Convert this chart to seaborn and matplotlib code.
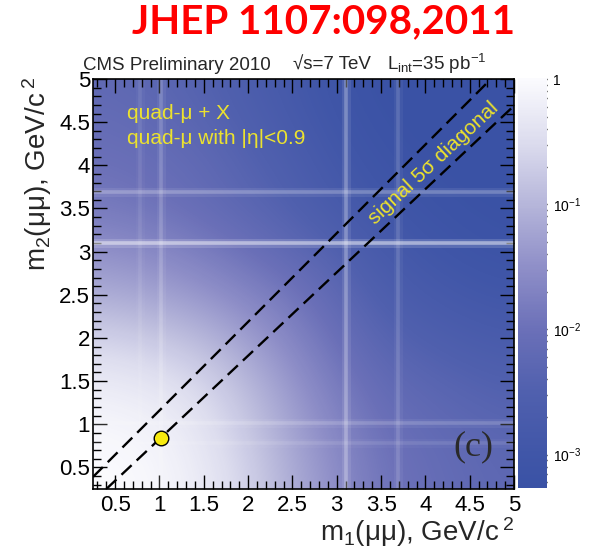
import numpy as np
import matplotlib
matplotlib.use("Agg")
import matplotlib.pyplot as plt
import seaborn as sns
from matplotlib.colors import LinearSegmentedColormap, Normalize, LogNorm
from matplotlib.ticker import FixedLocator, FixedFormatter, MultipleLocator, NullFormatter
import matplotlib.cm as cm

# ---------------- data ----------------
# grid nodes of the background map (GeV/c^2), same for m1 (columns) and m2 (rows)
mass_nodes = [0.0, 0.5, 1.0, 1.5, 2.0, 2.5, 3.0, 3.5, 4.0, 4.5, 5.0]
# log10 of the relative background density, one row per m2 node
log_density_m2_0p0 = [0.00, 0.00, -0.06, -0.25, -0.60, -1.10, -1.50, -1.90, -2.05, -2.18, -2.25]
log_density_m2_0p5 = [0.00, 0.00, -0.08, -0.28, -0.65, -1.15, -1.55, -1.92, -2.08, -2.20, -2.27]
log_density_m2_1p0 = [-0.06, -0.08, -0.15, -0.38, -0.78, -1.25, -1.65, -2.00, -2.15, -2.26, -2.33]
log_density_m2_1p5 = [-0.25, -0.28, -0.38, -0.60, -0.98, -1.42, -1.82, -2.15, -2.30, -2.42, -2.50]
log_density_m2_2p0 = [-0.60, -0.65, -0.78, -0.98, -1.30, -1.65, -2.02, -2.35, -2.52, -2.65, -2.72]
log_density_m2_2p5 = [-1.10, -1.15, -1.25, -1.42, -1.65, -1.90, -2.22, -2.55, -2.75, -2.88, -2.95]
log_density_m2_3p0 = [-1.45, -1.50, -1.60, -1.78, -2.00, -2.22, -2.45, -2.75, -2.95, -3.08, -3.15]
log_density_m2_3p5 = [-1.80, -1.85, -1.95, -2.10, -2.28, -2.48, -2.72, -2.95, -3.10, -3.20, -3.25]
log_density_m2_4p0 = [-1.98, -2.00, -2.08, -2.20, -2.40, -2.60, -2.88, -3.08, -3.20, -3.27, -3.30]
log_density_m2_4p5 = [-2.10, -2.12, -2.20, -2.33, -2.52, -2.75, -3.00, -3.18, -3.27, -3.30, -3.30]
log_density_m2_5p0 = [-2.20, -2.22, -2.30, -2.43, -2.62, -2.85, -3.08, -3.25, -3.30, -3.30, -3.30]

# resonances (omega, phi, J/psi, psi') seen as light bands
resonance_mass = [0.78, 1.02, 3.10, 3.69]
resonance_strength_m1 = [0.12, 0.25, 0.40, 0.20]   # vertical bands
resonance_strength_m2 = [0.15, 0.25, 0.70, 0.35]   # horizontal bands
# signal 5 sigma diagonal corridor (end points)
diag_upper_m1 = [0.25, 4.74]
diag_upper_m2 = [0.39, 5.00]
diag_lower_m1 = [0.40, 5.00]
diag_lower_m2 = [0.25, 4.69]
# observed candidate
candidate_m1 = [1.02]
candidate_m2 = [0.84]

tick_values = [0.5, 1.0, 1.5, 2.0, 2.5, 3.0, 3.5, 4.0, 4.5, 5.0]
tick_labels = ["0.5", "1", "1.5", "2", "2.5", "3", "3.5", "4", "4.5", "5"]
cbar_ticks = [1e-3, 1e-2, 1e-1, 1.0]
cbar_labels = [r"$10^{-3}$", r"$10^{-2}$", r"$10^{-1}$", "1"]
cbar_min, cbar_max = 5.4e-4, 1.02

# colour palette (log10 value -> colour)
cmap_levels = [np.log10(cbar_min), -3.0, -2.5, -2.0, -1.5, -1.0, -0.5, np.log10(cbar_max)]
cmap_colors = ["#3a52a5", "#4056a8", "#5060ae", "#6b70b8", "#8f8fc8", "#b6b6da", "#dcdcee", "#fbfbfe"]

# ---------------- style ----------------
sns.set_style("ticks")
plt.rcParams["font.family"] = ["Liberation Sans", "DejaVu Sans"]
plt.rcParams["mathtext.fontset"] = "custom"
plt.rcParams["mathtext.rm"] = "Liberation Sans"
plt.rcParams["mathtext.it"] = "Liberation Sans:italic"
plt.rcParams["mathtext.bf"] = "Liberation Sans:bold"
plt.rcParams["lines.scale_dashes"] = False

W, H = 589, 548
fig = plt.figure(figsize=(W / 100, H / 100), dpi=100)
fig.patch.set_facecolor("white")

ax = fig.add_axes([93 / W, 1 - 489 / H, 421 / W, 410 / H])
cax = fig.add_axes([518 / W, 1 - 488 / H, 29 / W, 410 / H])

lmin, lmax = cmap_levels[0], cmap_levels[-1]
pos = [(l - lmin) / (lmax - lmin) for l in cmap_levels]
cmap = LinearSegmentedColormap.from_list("cmsblue", list(zip(pos, cmap_colors)))

Z = np.array([log_density_m2_0p0, log_density_m2_0p5, log_density_m2_1p0, log_density_m2_1p5,
              log_density_m2_2p0, log_density_m2_2p5, log_density_m2_3p0, log_density_m2_3p5,
              log_density_m2_4p0, log_density_m2_4p5, log_density_m2_5p0])
step = mass_nodes[1] - mass_nodes[0]
ax.imshow(Z, origin="lower", cmap=cmap, norm=Normalize(lmin, lmax),
          extent=[mass_nodes[0] - step / 2, mass_nodes[-1] + step / 2,
                  mass_nodes[0] - step / 2, mass_nodes[-1] + step / 2],
          interpolation="bicubic", interpolation_stage="data", aspect="auto", zorder=0)

# resonance bands (soft glow)
for m, a in zip(resonance_mass, resonance_strength_m1):
    ax.axvline(m, color="white", lw=6.5, alpha=a * 0.22, zorder=1, solid_capstyle="butt")
    ax.axvline(m, color="white", lw=2.6, alpha=a * 0.65, zorder=1, solid_capstyle="butt")
for m, a in zip(resonance_mass, resonance_strength_m2):
    ax.axhline(m, color="white", lw=6.5, alpha=a * 0.22, zorder=1, solid_capstyle="butt")
    ax.axhline(m, color="white", lw=2.6, alpha=a * 0.65, zorder=1, solid_capstyle="butt")

# diagonal corridor
sns.lineplot(x=diag_upper_m1, y=diag_upper_m2, ax=ax, color="black", lw=1.7,
             sort=False, estimator=None, zorder=3)
sns.lineplot(x=diag_lower_m1, y=diag_lower_m2, ax=ax, color="black", lw=1.7,
             sort=False, estimator=None, zorder=3)
for ln in ax.lines[-2:]:
    ln.set_dashes((10, 5))

sns.scatterplot(x=candidate_m1, y=candidate_m2, ax=ax, s=110, color="#f7ea10",
                edgecolor="black", linewidth=1.0, zorder=5)

ax.set_xlim(0.25, 5.0)
ax.set_ylim(0.25, 5.0)
for axis in (ax.xaxis, ax.yaxis):
    axis.set_major_locator(FixedLocator(tick_values))
    axis.set_major_formatter(FixedFormatter(tick_labels))
    axis.set_minor_locator(MultipleLocator(0.1))
ax.tick_params(which="both", direction="in", top=True, right=True, width=1.0, colors="black")
ax.tick_params(which="major", length=10, labelsize=16)
ax.tick_params(which="minor", length=5.5)
ax.tick_params(axis="x", pad=4)
ax.tick_params(axis="y", pad=2)
for s in ax.spines.values():
    s.set_linewidth(1.2)
    s.set_color("black")
ax.set_xlabel("")
ax.set_ylabel("")

# texts inside
ylw = "#ece22e"
ax.text(0.08, 0.915, "quad-μ + X", transform=ax.transAxes, color=ylw, fontsize=15,
        ha="left", va="center")
ax.text(0.08, 0.855, "quad-μ with |η|<0.9", transform=ax.transAxes, color=ylw, fontsize=15,
        ha="left", va="center")
ax.text(4.09, 4.03, "signal 5σ diagonal", color=ylw, fontsize=15, rotation=43,
        ha="center", va="center", rotation_mode="anchor")
ax.text(4.54, 0.74, "(c)", color="#2a2a2a", fontsize=26, family="Liberation Serif",
        ha="center", va="center")

# colorbar
sm = cm.ScalarMappable(norm=LogNorm(cbar_min, cbar_max), cmap=cmap)
cb = fig.colorbar(sm, cax=cax)
cb.outline.set_visible(False)
cax.yaxis.set_ticks_position("right")
cax.set_yticks(cbar_ticks)
cax.set_yticklabels(cbar_labels)
cax.yaxis.set_minor_formatter(NullFormatter())
cax.tick_params(which="both", direction="in", right=True, left=False, colors="black")
cax.tick_params(which="major", length=8, width=1, labelsize=10, pad=4)
cax.tick_params(which="minor", length=5, width=1)

# header texts
fig.text(83 / W, 1 - 70 / H, "CMS Preliminary 2010", fontsize=13.5, ha="left", va="baseline")
fig.text(293 / W, 1 - 70 / H, "√s=7 TeV", fontsize=13.5, ha="left", va="baseline")
fig.text(387 / W, 1 - 70 / H, r"L$_{\rm int}$=35 pb$^{-1}$", fontsize=13.5, ha="left", va="baseline")

# axis titles
fig.text(514 / W, 1 - 541 / H, r"m$_1$(μμ), GeV/c$\,^2$", fontsize=20, ha="right", va="baseline")
fig.text(37 / W, 1 - 77 / H, r"m$_2$(μμ), GeV/c$\,^2$", fontsize=20, ha="center", va="top", rotation=90)

# paper reference
fig.text(324 / W, 1 - 22 / H, "JHEP 1107:098,2011", color="#ff0000", fontsize=29,
         fontweight="bold", family=["Lato", "DejaVu Sans"], ha="center", va="center")

fig.savefig("out.png", dpi=100)
